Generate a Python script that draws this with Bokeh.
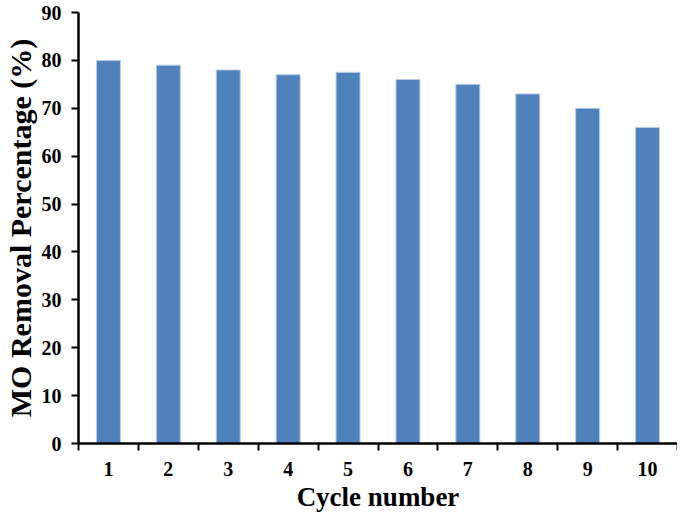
from bokeh.plotting import figure
from bokeh.models import FixedTicker, Range1d, ColumnDataSource
from bokeh.embed import file_html
from bokeh.resources import INLINE

cycles = [1, 2, 3, 4, 5, 6, 7, 8, 9, 10]
removal = [80, 79, 78, 77, 77.5, 76, 75, 73, 70, 66]
y_ticks = [0, 10, 20, 30, 40, 50, 60, 70, 80, 90]

src = ColumnDataSource(dict(x=cycles, top=removal))

p = figure(width=677, height=516, output_backend="svg", toolbar_location=None,
           x_range=Range1d(0.5, 10.5), y_range=Range1d(0, 90),
           min_border_left=70, min_border_right=0, min_border_top=12, min_border_bottom=73)
p.vbar(x="x", top="top", width=0.4, source=src, fill_color="#4F81BD",
       line_color="#B9CDE5", line_width=1)

p.outline_line_color = None
p.xgrid.visible = False
p.ygrid.visible = False

font = "Liberation Serif"
for ax in (p.xaxis[0], p.yaxis[0]):
    ax.axis_line_width = 2.5
    ax.axis_line_color = "black"
    ax.major_label_text_font = font
    ax.major_label_text_font_style = "bold"
    ax.major_label_text_font_size = "20px"
    ax.major_label_text_color = "black"
    ax.axis_label_text_font = font
    ax.axis_label_text_font_style = "bold"
    ax.axis_label_text_color = "black"

p.xaxis.axis_label_text_font_size = "27px"
p.yaxis.axis_label_text_font_size = "30px"

p.xaxis.ticker = FixedTicker(ticks=cycles, minor_ticks=[c - 0.5 for c in cycles] + [10.5])
p.xaxis.major_tick_out = 0
p.xaxis.major_tick_in = 0
p.xaxis.minor_tick_out = 7
p.xaxis.minor_tick_in = 0
p.xaxis.minor_tick_line_color = "black"
p.xaxis.minor_tick_line_width = 2
p.xaxis.major_label_standoff = 11
p.xaxis.axis_label = "Cycle number"
p.xaxis.axis_label_standoff = 3

p.yaxis.ticker = FixedTicker(ticks=y_ticks)
p.yaxis.major_tick_out = 7
p.yaxis.major_tick_in = 0
p.yaxis.major_tick_line_width = 2
p.yaxis.major_tick_line_color = "black"
p.yaxis.minor_tick_line_color = None
p.yaxis.major_label_standoff = 10
p.yaxis.axis_label = "MO Removal Percentage (%)"
p.yaxis.axis_label_standoff = 2

open("out.html", "w").write(file_html(p, INLINE))
